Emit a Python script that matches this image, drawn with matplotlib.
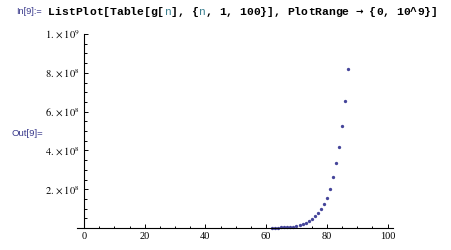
import numpy as np
import matplotlib
matplotlib.use("Agg")
import matplotlib.pyplot as plt
from matplotlib.ticker import MultipleLocator, FixedLocator

# values (g[n] for the points that show inside the plot range)
n_vals = [62, 63, 64, 65, 66, 67, 68, 69, 70, 71, 72, 73, 74, 75, 76, 77, 78, 79, 80, 81, 82, 83, 84, 85, 86, 87]
g_vals = [1.3e6, 1.6e6, 2.0e6, 2.6e6, 3.3e6, 4.3e6, 5.5e6, 7.2e6, 1.0e7,
          1.4e7, 1.9e7, 2.4e7, 3.4e7, 4.6e7, 6.0e7, 7.5e7, 9.9e7, 1.26e8, 1.57e8,
          2.0e8, 2.65e8, 3.33e8, 4.16e8, 5.26e8, 6.55e8, 8.2e8]

x_ticks = [0, 20, 40, 60, 80, 100]
y_ticks = [2e8, 4e8, 6e8, 8e8, 1e9]
y_tick_labels = [r"$2.\times10^{8}$", r"$4.\times10^{8}$", r"$6.\times10^{8}$",
                 r"$8.\times10^{8}$", r"$1.\times10^{9}$"]

plt.rcParams["mathtext.fontset"] = "stix"
plt.rcParams["font.family"] = "Liberation Serif"

W, H, DPI = 451, 250, 100
fig = plt.figure(figsize=(W / DPI, H / DPI), dpi=DPI)

# axes box in pixels: left 77, right 393, bottom line at 228, top 34
ax = fig.add_axes([77 / W, (H - 228) / H, 316 / W, 194 / H])
ax.plot(n_vals, g_vals, "o", ms=2.4, color="#45459a", mec="none", clip_on=False)

ax.set_xlim(-2.3, 101.8)
ax.set_ylim(0, 1e9)
for s in ["top", "right"]:
    ax.spines[s].set_visible(False)
ax.spines["left"].set_position(("data", 0))
ax.spines["left"].set_linewidth(0.8)
ax.spines["bottom"].set_linewidth(0.8)

ax.xaxis.set_major_locator(FixedLocator(x_ticks))
ax.xaxis.set_minor_locator(MultipleLocator(5))
ax.yaxis.set_major_locator(FixedLocator(y_ticks))
ax.yaxis.set_minor_locator(MultipleLocator(5e7))
ax.set_xticklabels([str(v) for v in x_ticks])
ax.set_yticklabels(y_tick_labels)
ax.tick_params(which="both", direction="in", width=0.7, labelsize=7.5)
ax.tick_params(which="major", length=3.2)
ax.tick_params(which="minor", length=1.8)
ax.tick_params(axis="x", pad=3)
ax.tick_params(axis="y", pad=3)
ax.patch.set_visible(False)

# notebook cell labels
lab_col = "#3a3a8c"
fig.text(16 / W, 1 - 12 / H, "In[9]:=", fontsize=6.6, family="Liberation Sans",
         color=lab_col, va="center", ha="left")
fig.text(12 / W, 1 - 134 / H, "Out[9]=", fontsize=6.8, family="Liberation Sans",
         color=lab_col, va="center", ha="left")

# input line, monospaced, with the iterator variable in teal
code_fs = 8.2
cw = 0.6 * code_fs * DPI / 72.0
pieces = [("ListPlot[Table[g[", "bold", "black"),
          ("n", "normal", "#3b7f8f"),
          ("], {", "bold", "black"),
          ("n", "normal", "#3b7f8f"),
          (", 1, 100}], PlotRange \u2192 {0, 10^9}]", "bold", "black")]
x0 = 48
i = 0
for txt, wt, col in pieces:
    for ch in txt:
        fam = ["DejaVu Sans"] if ch == "\u2192" else ["Liberation Mono", "DejaVu Sans Mono"]
        fs = 6.5 if ch == "\u2192" else code_fs
        fig.text((x0 + i * cw) / W, 1 - 12 / H, ch, fontsize=fs,
                 family=fam, weight=wt, color=col, va="center", ha="left")
        i += 1

fig.savefig("out.png", dpi=DPI)
